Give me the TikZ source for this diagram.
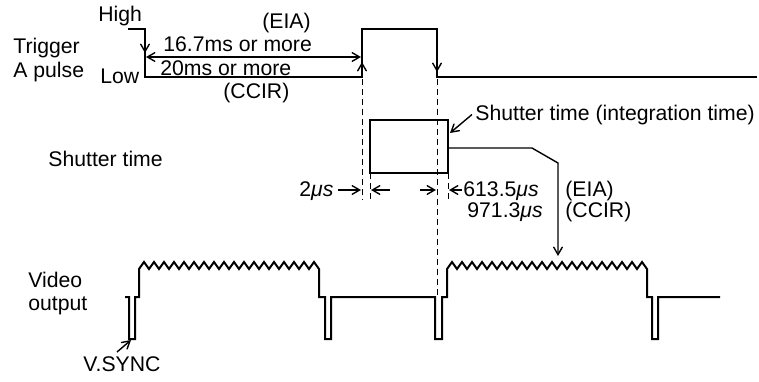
\documentclass[tikz,border=0pt]{standalone}
\usepackage{fontspec}
\setmainfont{Liberation Sans}
\usetikzlibrary{arrows,positioning,calc}
\tikzset{wave/.style={line width=1pt, line join=miter},
         dimline/.style={->,>=angle 60, line width=0.7pt},
         guide/.style={line width=0.5pt, dash pattern=on 3pt off 2pt},
         lbl/.style={inner sep=0pt, anchor=base west, font=\fontsize{10.6}{12}\selectfont}
}

\begin{document}
\begin{tikzpicture}[x=0.5pt,y=-0.5pt]
    \useasboundingbox (0,0) rectangle (759,381);
    % left side labels
    \node[lbl] (trig)  at (13,53)  {Trigger};
    \node[lbl] (apuls) at (13,77)  {A pulse};
    \node[lbl] (high)  at (98,21)  {High};
    \node[lbl] (low)   at (100,83) {Low};
    \node[lbl] (shut)  at (48,166) {Shutter time};
    \node[lbl] (video) at (28,287) {Video};
    \node[lbl] (outp)  at (28,310) {output};
    \node[lbl] (vsync) at (83,371) {V.SYNC};
    % trigger pulse
    \draw[wave] (128,29) -- (145,29) -- (145,77) -- (362,77) -- (362,29)
                -- (437,29) -- (437,77) -- (757,77);
    \draw[dimline] (145,38) -- (145,53);
    \draw[dimline] (362,74) -- (362,62);
    \draw[dimline] (437,60) -- (437,72);
    \coordinate (tfall) at (146,57);
    \coordinate (trise) at (361,57);
    \draw[dimline,<->] (tfall) -- (trise);
    \node[lbl] (eia1)  at (262,28) {(EIA)};
    \node[lbl] (t167)  at (163,51) {16.7ms or more};
    \node[lbl] (t20)   at (160,75) {20ms or more};
    \node[lbl] (ccir1) at (223,98) {(CCIR)};
    % shutter window
    \draw[wave] (370,120) rectangle (448,173);
    \draw[guide] (362,79) -- (362,200);
    \draw[guide] (437,79) -- (437,297);
    \draw[guide] (370,173) -- (370,200);
    \draw[guide] (448,173) -- (448,200);
    \node[lbl] (stint) at (475,120) {Shutter time (integration time)};
    \coordinate (boxtr) at (450,133);
    \draw[dimline] ([xshift=-1.5pt]stint.west) -- (boxtr);
    \coordinate (vidpt) at (558,256);
    \draw[dimline] (448,148) -- (532,148) -- (558,163) -- (vidpt);
    % widths
    \node[lbl] (t2us)  at (299,196) {2\textit{μs}};
    \draw[dimline] (338,190) -- (361,190);
    \draw[dimline] (390,190) -- (371,190);
    \draw[dimline] (420,190) -- (436,190);
    \draw[dimline] (462,190) -- (449,190);
    \node[lbl] (t613)  at (463,196) {613.5\textit{μs}};
    \node[lbl] (eia2)  at (565,196) {(EIA)};
    \node[lbl] (t971)  at (467,217) {971.3\textit{μs}};
    \node[lbl] (ccir2) at (565,217) {(CCIR)};
    % video output
    \draw[wave] (125,297) -- (129,297) -- (129,339) -- (135,339) -- (135,297)
                -- (139,297) -- (139,269)
                \foreach \i in {1,...,18} { -- ++(5,-7) -- ++(5,7) }
                -- (319,297) -- (325,297) -- (325,339) -- (331,339) -- (331,297)
                -- (435,297) -- (435,339) -- (442,339) -- (442,297)
                -- (447,297) -- (447,269)
                \foreach \i in {1,...,20} { -- ++(5,-7) -- ++(5,7) }
                -- (647,297) -- (652,297) -- (652,339) -- (658,339) -- (658,297)
                -- (720,297);
    \coordinate (vtail) at (117,352);
    \draw[dimline] (vtail) -- (131,340);
\end{tikzpicture}
\end{document}
